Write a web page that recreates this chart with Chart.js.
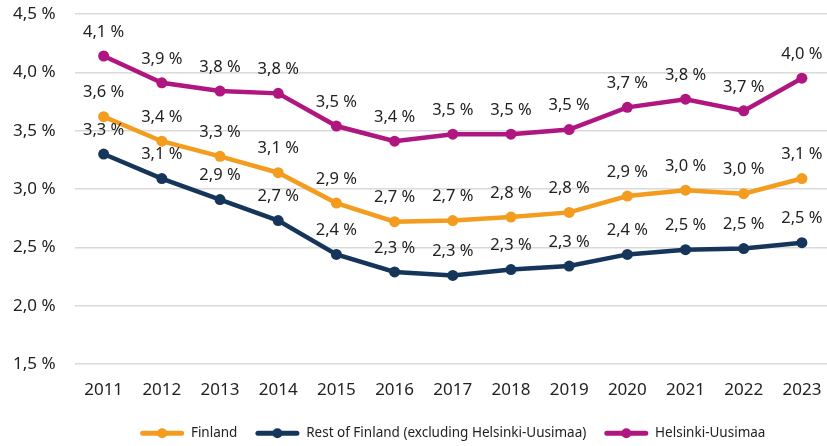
<!DOCTYPE html>
<html>
<head>
<meta charset="utf-8">
<script src="https://cdn.jsdelivr.net/npm/chart.js@4.4.0/dist/chart.umd.min.js"></script>
<style>
  body { margin: 0; background: #fff; overflow: hidden; }
  #wrap { width: 831px; height: 446px; }
</style>
</head>
<body>
<div id="wrap"><canvas id="chartTyottomyys"></canvas></div>
<script>
var vuodet = ['2011', '2012', '2013', '2014', '2015', '2016', '2017', '2018', '2019', '2020', '2021', '2022', '2023'];
var finland = [3.62, 3.41, 3.28, 3.14, 2.88, 2.72, 2.73, 2.76, 2.80, 2.94, 2.99, 2.96, 3.09];
var restOfFinland = [3.30, 3.09, 2.91, 2.73, 2.44, 2.29, 2.26, 2.31, 2.34, 2.44, 2.48, 2.49, 2.54];
var helsinkiUusimaa = [4.14, 3.91, 3.84, 3.82, 3.54, 3.41, 3.47, 3.47, 3.51, 3.70, 3.77, 3.67, 3.95];
var yTicks = [1.5, 2.0, 2.5, 3.0, 3.5, 4.0, 4.5];

function pros(v) {
    return v.toFixed(1).replace('.', ',') + ' %';
}

// arvot pisteiden ylle
var arvoLabelit = {
    id: 'arvoLabelit',
    afterDatasetsDraw: function(chart) {
        var ctx = chart.ctx;
        ctx.save();
        ctx.font = '16.5px "Noto Sans"';
        ctx.fillStyle = '#222';
        ctx.textAlign = 'center';
        ctx.textBaseline = 'middle';
        chart.data.datasets.forEach(function(ds, i) {
            chart.getDatasetMeta(i).data.forEach(function(pt, j) {
                ctx.fillText(pros(ds.data[j]), pt.x, pt.y - 24);
            });
        });
        ctx.restore();
    }
};

// pallo legendan viivan keskelle
var legendaPallot = {
    id: 'legendaPallot',
    afterDraw: function(chart) {
        var lg = chart.legend;
        if (!lg || !lg.legendHitBoxes) return;
        var ctx = chart.ctx;
        var bw = lg.options.labels.boxWidth;
        ctx.save();
        lg.legendHitBoxes.forEach(function(hb, i) {
            ctx.beginPath();
            ctx.fillStyle = chart.data.datasets[i].borderColor;
            ctx.arc(hb.left + bw / 2, hb.top + hb.height / 2, 5, 0, Math.PI * 2);
            ctx.fill();
        });
        ctx.restore();
    }
};

var tyottomyys = document.getElementById('chartTyottomyys').getContext('2d');
var chart = new Chart(tyottomyys, {
    type: 'line',
    data: {
        labels: vuodet,
        datasets: [{
            label: 'Finland',
            borderColor: '#f39c1e',
            backgroundColor: '#f39c1e',
            data: finland
        }, {
            label: 'Rest of Finland (excluding Helsinki-Uusimaa)',
            borderColor: '#15365a',
            backgroundColor: '#15365a',
            data: restOfFinland
        }, {
            label: 'Helsinki-Uusimaa',
            borderColor: '#b0167f',
            backgroundColor: '#b0167f',
            data: helsinkiUusimaa
        }]
    },
    options: {
        responsive: true,
        maintainAspectRatio: false,
        animation: false,
        layout: { autoPadding: false, padding: { top: 14, left: -6, right: 0, bottom: -4 } },
        elements: {
            line: { borderWidth: 4.5, tension: 0 },
            point: { radius: 5.5, borderWidth: 0, hoverRadius: 5.5 }
        },
        scales: {
            x: {
                offset: true,
                grid: { display: false },
                border: { display: false },
                ticks: { color: '#222', font: { family: 'Noto Sans', size: 17 }, padding: 8 }
            },
            y: {
                min: 1.5,
                max: 4.5,
                afterBuildTicks: function(axis) {
                    axis.ticks = yTicks.map(function(v) { return { value: v }; });
                },
                afterFit: function(axis) {
                    axis.paddingTop = 0;
                    axis.paddingBottom = 0;
                },
                grid: { color: '#dadada', lineWidth: 1.5, drawTicks: false },
                border: { display: false },
                ticks: {
                    color: '#222',
                    font: { family: 'Noto Sans', size: 17 },
                    padding: 19,
                    callback: function(v) { return pros(v); }
                }
            }
        },
        plugins: {
            tooltip: { enabled: false },
            legend: {
                position: 'bottom',
                fullSize: false,
                labels: {
                    boxWidth: 44,
                    boxHeight: 5,
                    padding: 18,
                    color: '#222',
                    font: { family: 'Noto Sans', size: 13.5 },
                    useBorderRadius: true,
                    borderRadius: 2.5,
                    generateLabels: function(ch) {
                        return Chart.defaults.plugins.legend.labels.generateLabels(ch).map(function(it) {
                            it.lineWidth = 0;
                            return it;
                        });
                    }
                }
            }
        }
    },
    plugins: [arvoLabelit, legendaPallot]
});
</script>
</body>
</html>
